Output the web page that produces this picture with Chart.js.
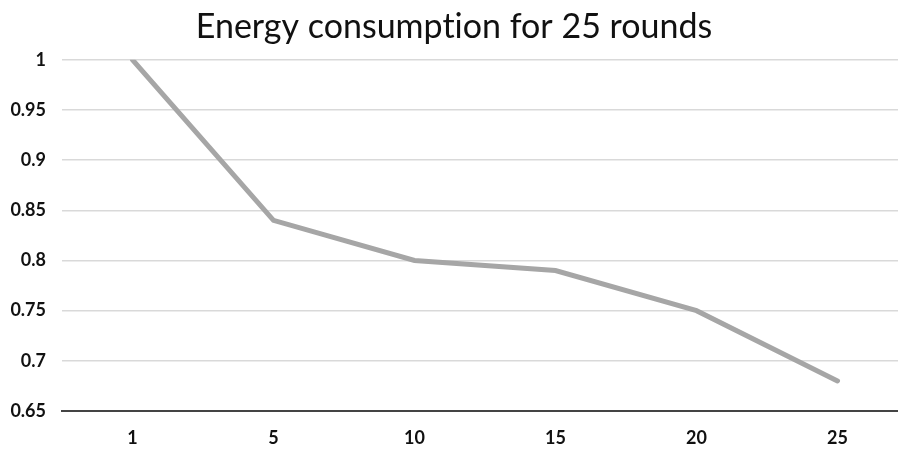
<!DOCTYPE html>
<html>
<head>
<meta charset="utf-8">
<script src="https://cdn.jsdelivr.net/npm/chart.js@4/dist/chart.umd.min.js"></script>
<style>
  html, body { margin: 0; padding: 0; background: #fff; overflow: hidden; }
  #wrap { width: 898px; height: 450px; overflow: hidden; }
</style>
</head>
<body>
<div id="wrap"><canvas id="chart" width="910" height="450"></canvas></div>
<script>
// données
var rounds = ['1', '5', '10', '15', '20', '25'];
var energie = [1, 0.84, 0.80, 0.79, 0.75, 0.68];
// \u200C évite la ligature "ti" de Lato
var titre = 'Energy consumpt\u200Cion for 25 rounds';

var ctx = document.getElementById('chart').getContext('2d');
var chart = new Chart(ctx, {
    type: 'line',
    data: {
        labels: rounds,
        datasets: [{
            label: 'Energy',
            data: energie,
            borderColor: '#a6a6a6',
            borderWidth: 5,
            pointRadius: 0,
            tension: 0,
            borderCapStyle: 'round'
        }]
    },
    options: {
        responsive: false,
        animation: false,
        layout: { padding: { top: 0, right: 2, left: 0, bottom: 0 } },
        plugins: {
            legend: { display: false },
            tooltip: { enabled: false },
            title: {
                display: true,
                text: titre,
                color: '#111',
                font: { family: 'Lato', size: 34, weight: 'normal' },
                padding: { top: 7, bottom: 12 }
            }
        },
        scales: {
            x: {
                offset: true,
                grid: { display: false, drawTicks: false },
                border: { display: true, color: '#444', width: 2 },
                ticks: {
                    color: '#111',
                    padding: 16,
                    font: { family: 'Lato', size: 18, weight: 'bold' }
                },
                afterFit: function(scale) { scale.height = 39; }
            },
            y: {
                min: 0.65,
                max: 1,
                grid: { color: '#d9d9d9', lineWidth: 1.5, drawTicks: false },
                border: { display: false },
                ticks: {
                    stepSize: 0.05,
                    color: '#111',
                    padding: 16,
                    font: { family: 'Lato', size: 18, weight: 'bold' },
                    callback: function(v) { return String(Number(v.toFixed(2))); }
                },
                afterFit: function(scale) { scale.width = 62; }
            }
        }
    }
});
</script>
</body>
</html>
